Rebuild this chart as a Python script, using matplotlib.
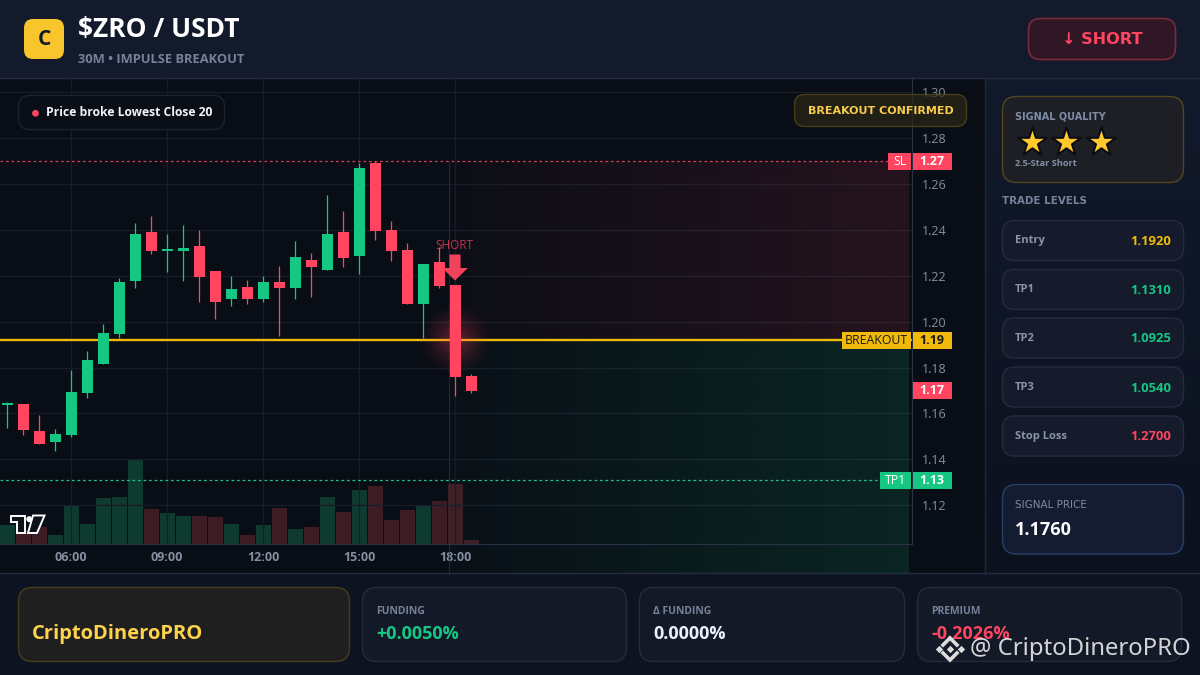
import numpy as np
import matplotlib
matplotlib.use("Agg")
import matplotlib.pyplot as plt
from matplotlib.patches import FancyBboxPatch, Rectangle, Polygon, Circle

# candles, 30m bars
opens = [1.1638,1.1641,1.1523,1.1476,1.1507,1.1690,1.1817,1.1947,1.2177,1.2391,
         1.2310,1.2308,1.2330,1.2221,1.2099,1.2151,1.2099,1.2173,1.2147,1.2269,
         1.2227,1.2391,1.2288,1.2692,1.2400,1.2313,1.2078,1.2260,1.2160,1.1763]
highs = [1.1649,1.1641,1.1593,1.1532,1.1789,1.1872,1.1990,1.2191,1.2431,1.2461,
         1.2383,1.2422,1.2400,1.2221,1.2199,1.2182,1.2199,1.2243,1.2352,1.2300,
         1.2553,1.2483,1.2692,1.2701,1.2439,1.2343,1.2252,1.2327,1.2160,1.1772]
lows = [1.1537,1.1507,1.1467,1.1437,1.1498,1.1668,1.1817,1.1930,1.2147,1.2295,
        1.2217,1.2177,1.2086,1.2012,1.2068,1.2077,1.2086,1.1939,1.2099,1.2109,
        1.2227,1.2239,1.2209,1.2358,1.2266,1.2078,1.1930,1.2148,1.1677,1.1690]
closes = [1.1643,1.1529,1.1467,1.1510,1.1693,1.1833,1.1951,1.2173,1.2383,1.2308,
          1.2315,1.2321,1.2195,1.2086,1.2143,1.2099,1.2173,1.2147,1.2282,1.2239,
          1.2383,1.2279,1.2671,1.2397,1.2310,1.2078,1.2252,1.2157,1.1760,1.1699]
volumes = [18.7,14,16.7,8.7,38.3,19.7,45.7,46.7,83.7,34.7,
           30.7,27.7,27.7,26.7,19.7,8.7,18.7,35.7,15,17,
           47,32,54,58,24,34,38,43,60,4]

time_idx = [4,10,16,22,28]
time_labels = ["06:00","09:00","12:00","15:00","18:00"]
price_ticks = [1.30,1.28,1.26,1.24,1.22,1.20,1.18,1.16,1.14,1.12]

stop_price = 1.27
breakout_price = 1.192
tp1_price = 1.131
last_price = 1.17
signal_idx = 28

levels = ["Entry","TP1","TP2","TP3","Stop Loss"]
level_values = ["1.1920","1.1310","1.0925","1.0540","1.2700"]

footer_labels = ["FUNDING","Δ FUNDING","PREMIUM"]
footer_values = ["+0.0050%","0.0000%","-0.2026%"]

RED = "#FF4560"
GREEN = "#16C784"
GOLD = "#F0B90B"
YELLOW = "#FFD24C"
GRID = "#171C28"
UI = ["Open Sans","DejaVu Sans"]
WIDE = "DejaVu Sans"

# chart pane sits at x 0-912, y 78-544 (pixels from top left)
def py(price):
    return 92.5 + (1.30 - price) * 2291.7

def pr(y):
    return 1.30 - (y - 92.5) / 2291.7

def ix(x):
    return (x - 7) / 16

fig = plt.figure(figsize=(12,6.75), dpi=100)

base = fig.add_axes([0,0,1,1], zorder=0)
base.set_xlim(0,1200)
base.set_ylim(675,0)
base.axis("off")
top = fig.add_axes([0,0,1,1], zorder=3)
top.set_xlim(0,1200)
top.set_ylim(675,0)
top.axis("off")
top.patch.set_alpha(0)

pane = [0,(675-544)/675,912/1200,(544-78)/675]
vax = fig.add_axes(pane, zorder=1)
ax = fig.add_axes(pane, zorder=2)
ax.patch.set_alpha(0)


def card(a, x0, y0, x1, y1, fc, ec, r=12, lw=1, alpha=None):
    p = FancyBboxPatch((x0,y0), x1-x0, y1-y0, boxstyle="round,pad=0,rounding_size=%s" % r,
                       fc=fc, ec=ec, lw=lw, alpha=alpha)
    a.add_patch(p)
    return p


# backgrounds
base.add_patch(Rectangle((0,0),1200,675,fc="#0D1320",ec="none"))
base.add_patch(Rectangle((0,0),1200,78,fc="#131A2B",ec="none"))
base.add_patch(Rectangle((0,78),985,495,fc="#090D15",ec="none"))
grad = np.linspace(0,1,64).reshape(-1,1,1) * (np.array([12,17,30]) - np.array([17,26,43])) + np.array([17,26,43])
base.imshow(grad/255, extent=[985,1200,573,78], aspect="auto", zorder=1)
base.set_xlim(0,1200)
base.set_ylim(675,0)
base.plot([0,1200],[77.5,77.5],color="#262D3F",lw=1,zorder=2)
base.plot([0,1200],[573,573],color="#262D3F",lw=1,zorder=2)
base.plot([985,985],[78,573],color="#1F2738",lw=1,zorder=2)

# header
card(top,24,19,64,59,"#F9C52D","none",r=9)
top.text(44,39.5,"C",color="#131A2B",fontsize=15,fontweight="bold",family=UI,ha="center",va="center")
top.text(78,29,"$ZRO / USDT",color="white",fontsize=19,fontweight="bold",family=UI,va="center")
top.text(78,59.5,"30M • IMPULSE BREAKOUT",color="#76829B",fontsize=9.3,fontweight="bold",family=UI,va="center")
card(top,1028.5,18.5,1175.5,59.5,"#2F1726","#7A2B3C",r=12,lw=1.2)
top.text(1102,40,"↓ SHORT",color=RED,fontsize=11.6,fontweight="bold",family=WIDE,ha="center",va="center")

# chart
ax.set_xlim(ix(0),ix(912))
ax.set_ylim(pr(544),pr(78))
ax.set_yticks(price_ticks)
ax.set_yticklabels(["%.2f" % v for v in price_ticks])
ax.yaxis.tick_right()
ax.set_xticks(time_idx)
ax.set_xticklabels(time_labels)
ax.tick_params(axis="both",length=0,colors="#868F9F",labelsize=9)
ax.tick_params(axis="y",pad=7)
ax.tick_params(axis="x",pad=5)
for lab in ax.get_xticklabels() + ax.get_yticklabels():
    lab.set_family(UI)
for lab in ax.get_yticklabels():
    lab.set_verticalalignment("center_baseline")
for lab in ax.get_xticklabels():
    lab.set_fontweight("bold")
ax.grid(True,color=GRID,lw=1)
ax.set_axisbelow(True)
for s in ["top","left"]:
    ax.spines[s].set_visible(False)
ax.spines["right"].set_color("#2A3346")
ax.spines["bottom"].set_color("#2A3346")

# signal zones
x_a, x_b = ix(449), ix(909)
red_rgba = np.zeros((1,128,4))
red_rgba[...,:3] = np.array([255,69,96])/255
red_rgba[...,3] = np.linspace(0.015,0.115,128)
ax.imshow(red_rgba,extent=[x_a,x_b,breakout_price,stop_price],aspect="auto",zorder=1,interpolation="bilinear")
green_rgba = np.zeros((1,128,4))
green_rgba[...,:3] = np.array([22,199,132])/255
green_rgba[...,3] = np.linspace(0.02,0.13,128)
im = ax.imshow(green_rgba,extent=[x_a,x_b,pr(573),breakout_price],aspect="auto",zorder=1,interpolation="bilinear")
im.set_clip_on(False)
ax.vlines(x_a,pr(573),stop_price,color="#2A3346",lw=0.8,alpha=0.7,zorder=1.2).set_clip_on(False)
ax.set_xlim(ix(0),ix(912))
ax.set_ylim(pr(544),pr(78))

# volume on its own scale, one unit = one pixel of pane height
vax.set_xlim(ix(0),ix(912))
vax.set_ylim(0,544-78)
vax.axis("off")
vax.patch.set_alpha(0)
vcolors = ["#0F3A30" if c >= o else "#3E1C24" for o,c in zip(opens,closes)]
vax.bar(range(len(volumes)),volumes,width=15/16,color=vcolors,lw=0)

# candles
for i,(o,h,l,c) in enumerate(zip(opens,highs,lows,closes)):
    col = GREEN if c >= o else RED
    ax.vlines(i,l,h,color=col,lw=0.9,zorder=3)
    ax.bar(i,abs(c-o),bottom=min(o,c),width=11/16,color=col,lw=0,zorder=3.1)

ax.axhline(stop_price,color=RED,lw=0.9,ls=(0,(2.2,2.2)),alpha=0.85,zorder=2)
ax.axhline(tp1_price,color=GREEN,lw=0.9,ls=(0,(2.2,2.2)),zorder=2)
ax.axhline(breakout_price,color=GOLD,lw=1.7,zorder=2.5)

# glow behind the signal candle
yy,xx = np.mgrid[-1:1:120j,-1:1:120j]
glow = np.zeros((120,120,4))
glow[...,:3] = np.array([255,69,96])/255
glow[...,3] = np.clip(1-np.hypot(xx,yy),0,1)**1.4*0.38
ax.imshow(glow,extent=[signal_idx-2.4,signal_idx+2.4,pr(378),pr(302)],aspect="auto",zorder=4,interpolation="bilinear")
ax.set_xlim(ix(0),ix(912))
ax.set_ylim(pr(544),pr(78))

ax.annotate("",xy=(signal_idx,pr(280.5)),xytext=(signal_idx,pr(254.5)),zorder=5,
            arrowprops=dict(fc=RED,ec="none",width=8,headwidth=18.5,headlength=9,shrinkA=0,shrinkB=0,alpha=0.95))
ax.text(signal_idx-0.05,pr(245.5),"SHORT",color=RED,alpha=0.75,fontsize=8.5,family=UI,ha="center",va="center",zorder=5)

# tradingview mark
top.add_patch(Polygon([(10.5,515.5),(25,515.5),(25,533),(16.5,533),(16.5,522),(10.5,522)],fc="#0E1218",ec="white",lw=1.4))
top.add_patch(Polygon([(33,515.5),(44.5,515.5),(37,533),(28,533)],fc="#0E1218",ec="white",lw=1.4))
top.add_patch(Circle((29.3,519.2),3,fc="white",ec="none"))

# note pill and badge
card(top,18.5,95.5,224.5,129.5,"#0A0E16","#1C222F",r=11)
top.add_patch(Circle((35.5,113.3),3.4,fc=RED,ec="none"))
top.text(46,113,"Price broke Lowest Close 20",color="#F2F4F8",fontsize=8.7,fontweight="bold",family=UI,va="center")
card(top,794.5,94.5,966.5,126.5,"#2B2716","#5E4F1E",r=10,alpha=0.7)
top.text(880.5,111.2,"BREAKOUT CONFIRMED",color="#F7CB4E",fontsize=8,fontweight="bold",family=WIDE,ha="center",va="center")


# price tags on the scale
def tag(price, text, color, txtcolor, label=None, left=None):
    y = py(price) + 0.4
    top.add_patch(Rectangle((912.5,y-8.5),39.5,17,fc=color,ec="none"))
    top.text(932,y,text,color=txtcolor,fontsize=9,fontweight="bold",family=UI,ha="center",va="center")
    if label:
        top.add_patch(Rectangle((left,y-8.5),911-left,17,fc=color,ec="none"))
        top.text((left+911)/2,y,label,color=txtcolor,fontsize=8.8,family=UI,ha="center",va="center")


tag(stop_price,"1.27",RED,"white","SL",888)
tag(breakout_price,"1.19",GOLD,"#1A1A12","BREAKOUT",842)
tag(last_price,"1.17",RED,"white")
tag(tp1_price,"1.13",GREEN,"white","TP1",880)

# right panel
card(top,1002.5,96.5,1183.5,182.5,"#1E1F25","#54471F",r=14)
top.text(1015,116.5,"SIGNAL QUALITY",color="#7E8CA8",fontsize=7,fontweight="bold",family=WIDE,va="center")
top.scatter([1032,1066,1101],[142,142,142],marker="*",s=480,c="#FFC92E",edgecolors="#0B0D12",linewidths=1.5,zorder=4)
top.text(1015,163.5,"2.5-Star Short",color="#8390A8",fontsize=6.6,fontweight="bold",family=UI,va="center")
top.text(1002.5,200.5,"TRADE LEVELS",color="#76829B",fontsize=7.4,fontweight="bold",family=WIDE,va="center")

level_tops = [220.5,269.5,318,367,416]
level_colors = [GOLD,GREEN,GREEN,GREEN,RED]
for name,val,y0,col in zip(levels,level_values,level_tops,level_colors):
    card(top,1002.5,y0,1183.5,y0+40,"#151B2A","#242C3E",r=12)
    top.text(1015,y0+20.2,name,color="#8A95A8",fontsize=8,fontweight="bold",family=UI,va="center")
    top.text(1171,y0+21,val,color=col,fontsize=9.4,fontweight="bold",family=UI,ha="right",va="center")

card(top,1002.5,484.5,1183.5,554,"#131C30","#27406A",r=14)
top.text(1015,505.5,"SIGNAL PRICE",color="#7E8CA8",fontsize=7.5,family=WIDE,va="center")
top.text(1015,530,"1.1760",color="white",fontsize=13,fontweight="bold",family=UI,va="center")

# footer
card(top,18.5,587.5,349.5,661.5,"#1F1F20","#4A3E1C",r=14)
top.text(32,633.5,"CriptoDineroPRO",color=YELLOW,fontsize=14.5,fontweight="bold",family=UI,va="center")
foot_x = [(362.5,626.5),(639.5,904.5),(917.5,1181.5)]
foot_colors = [GREEN,"#E8F0FF",RED]
for (x0,x1),name,val,col in zip(foot_x,footer_labels,footer_values,foot_colors):
    card(top,x0,587.5,x1,661.5,"#131926","#242C3E",r=14)
    top.text(x0+13.5,611.5,name,color="#76829B",fontsize=7.5,fontweight="bold",family=UI,va="center")
    top.text(x0+13.5,634,val,color=col,fontsize=13,fontweight="bold",family=UI,va="center")

# watermark
wm = "#DDDDDD"
for dx,dy in [(-11,0),(11,0),(0,0)]:
    top.scatter(950+dx,649+dy,marker="D",s=14,c=wm,linewidths=0,zorder=6)
top.plot([943,950,957],[645,638,645],color=wm,lw=2.6,solid_joinstyle="miter",zorder=6)
top.plot([943,950,957],[653,660,653],color=wm,lw=2.6,solid_joinstyle="miter",zorder=6)
top.text(970,649,"@ CriptoDineroPRO",color="white",alpha=0.82,fontsize=17.2,family="Noto Sans",va="center",zorder=6)

fig.savefig("out.png",dpi=100,facecolor="#0D1320")
